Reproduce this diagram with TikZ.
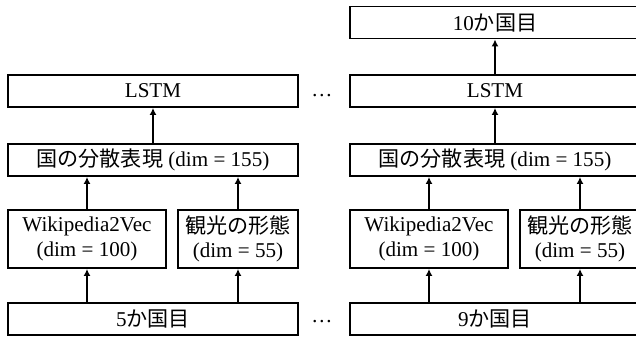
\documentclass[tikz,border=0pt]{standalone}
\usepackage{fontspec}
\setmainfont{Liberation Serif}
\newfontfamily\jpfont{Noto Sans CJK JP}
\usepackage{tikz}
\usetikzlibrary{arrows.meta, positioning}

\begin{document}
\begin{tikzpicture}[x=0.02cm, y=0.02cm,
    box/.style={draw, line width=1.1pt, minimum width=5.8cm, minimum height=0.64cm, inner sep=1pt, align=center, font=\fontsize{12}{14}\selectfont},
    wordbox/.style={box, minimum width=3.16cm, minimum height=1.16cm},
    tourbox/.style={box, minimum width=2.4cm, minimum height=1.16cm},
    signal/.style={-{Latex[length=4pt, width=4pt]}, line width=1.5pt},
    gap/.style={font=\fontsize{12}{14}\selectfont, inner sep=0pt}
]
\useasboundingbox (0,0) rectangle (636,336);

% Left column (5th country)
\node[box] (countryA) at (153,17) {5{\jpfont か国目}};
\node[wordbox] (wikiA) at (87,97) {Wikipedia2Vec\\(dim = 100)};
\node[tourbox] (tourA) at (238,97) {{\jpfont 観光の形態}\\(dim = 55)};
\node[box] (reprA) at (153,176) {{\jpfont 国の分散表現} (dim = 155)};
\node[box] (lstmA) at (153,245) {LSTM};

% Right column (9th country)
\node[box] (countryB) at (495,17) {9{\jpfont か国目}};
\node[wordbox] (wikiB) at (429,97) {Wikipedia2Vec\\(dim = 100)};
\node[tourbox] (tourB) at (580,97) {{\jpfont 観光の形態}\\(dim = 55)};
\node[box] (reprB) at (495,176) {{\jpfont 国の分散表現} (dim = 155)};
\node[box] (lstmB) at (495,245) {LSTM};
\node[box] (outB) at (495,313.5) {10{\jpfont か国目}};

% Skipped steps
\node[gap] (dotsTop) at (322,240) {\dots};
\node[gap] (dotsBot) at (322,14) {\dots};

% Connections
\draw[signal] (countryA.north -| wikiA) -- (wikiA.south);
\draw[signal] (countryA.north -| tourA) -- (tourA.south);
\draw[signal] (wikiA.north) -- (wikiA.north |- reprA.south);
\draw[signal] (tourA.north) -- (tourA.north |- reprA.south);
\draw[signal] (reprA.north) -- (lstmA.south);

\draw[signal] (countryB.north -| wikiB) -- (wikiB.south);
\draw[signal] (countryB.north -| tourB) -- (tourB.south);
\draw[signal] (wikiB.north) -- (wikiB.north |- reprB.south);
\draw[signal] (tourB.north) -- (tourB.north |- reprB.south);
\draw[signal] (reprB.north) -- (lstmB.south);
\draw[signal] (lstmB.north) -- (outB.south);

\end{tikzpicture}
\end{document}
